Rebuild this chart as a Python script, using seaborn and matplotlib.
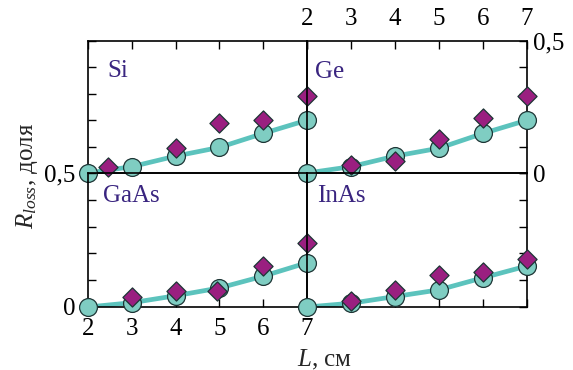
import numpy as np
import pandas as pd
import matplotlib
matplotlib.use("Agg")
import matplotlib.pyplot as plt
from matplotlib.ticker import FixedLocator, FixedFormatter
import seaborn as sns

# --- data -----------------------------------------------------------------
L_calc = [2, 3, 4, 5, 6, 7]

si_calc = [0.0, 0.024, 0.064, 0.097, 0.150, 0.200]
si_exp_L = [2.46, 4, 5, 6, 7]
si_exp = [0.024, 0.094, 0.188, 0.200, 0.290]

ge_calc = [0.0, 0.024, 0.064, 0.094, 0.150, 0.200]
ge_exp_L = [3, 4, 5, 6, 7]
ge_exp = [0.030, 0.047, 0.128, 0.207, 0.290]

gaas_calc = [0.0, 0.016, 0.042, 0.071, 0.115, 0.165]
gaas_exp_L = [3, 4, 4.95, 6, 7]
gaas_exp = [0.039, 0.058, 0.058, 0.153, 0.239]

inas_calc = [0.0, 0.014, 0.039, 0.064, 0.109, 0.153]
inas_exp_L = [3, 4, 5, 6, 7]
inas_exp = [0.023, 0.062, 0.121, 0.130, 0.180]

materials = ["Si", "Ge", "GaAs", "InAs"]
x_ticks = [2, 3, 4, 5, 6, 7]
x_ticklabels = ["2", "3", "4", "5", "6", "7"]
y_ticks = [0, 0.1, 0.2, 0.3, 0.4, 0.5]
y_ticklabels = ["0", "", "", "", "", "0,5"]

calc = pd.DataFrame({
    "material": np.repeat(materials, len(L_calc)),
    "L": L_calc * 4,
    "R": si_calc + ge_calc + gaas_calc + inas_calc,
})
exp = pd.DataFrame({
    "material": (["Si"] * len(si_exp) + ["Ge"] * len(ge_exp)
                 + ["GaAs"] * len(gaas_exp) + ["InAs"] * len(inas_exp)),
    "L": si_exp_L + ge_exp_L + gaas_exp_L + inas_exp_L,
    "R": si_exp + ge_exp + gaas_exp + inas_exp,
})

# --- style ----------------------------------------------------------------
sns.set_style("ticks")
plt.rcParams["font.family"] = ["Liberation Serif", "DejaVu Serif"]
plt.rcParams["mathtext.fontset"] = "custom"
plt.rcParams["mathtext.rm"] = "Liberation Serif"
plt.rcParams["mathtext.it"] = "Liberation Serif:italic"

FS = 18
LINE_C = "#5cc3bd"
CIRC_C = "#7fcdc2"
DIAM_C = "#9a1f80"
EDGE_C = "#1d3535"
LABEL_C = "#3a2580"

fig = plt.figure(figsize=(5.73, 3.70), dpi=100)
fig.patch.set_facecolor("white")

x0, xm, x1 = 0.1536, 0.5358, 0.9197
y0, ym, y1 = 0.1703, 0.5324, 0.8892
boxes = {
    "Si":   [x0, ym, xm - x0, y1 - ym],
    "Ge":   [xm, ym, x1 - xm, y1 - ym],
    "GaAs": [x0, y0, xm - x0, ym - y0],
    "InAs": [xm, y0, x1 - xm, ym - y0],
}
text_pos = {"Si": (0.087, 0.727), "Ge": (0.036, 0.72),
            "GaAs": (0.068, 0.784), "InAs": (0.045, 0.784)}

for name in materials:
    ax = fig.add_axes(boxes[name])
    ax.set_facecolor("none")
    c = calc[calc.material == name]
    e = exp[exp.material == name]
    sns.lineplot(data=c, x="L", y="R", ax=ax, color=LINE_C, lw=3.4,
                 zorder=2, legend=False)
    sns.scatterplot(data=c, x="L", y="R", ax=ax, marker="o", s=165,
                    color=CIRC_C, edgecolor=EDGE_C, linewidth=0.9,
                    zorder=3, clip_on=False, legend=False)
    sns.scatterplot(data=e, x="L", y="R", ax=ax, marker="D", s=95,
                    color=DIAM_C, edgecolor=EDGE_C, linewidth=0.9,
                    zorder=4, clip_on=False, legend=False)

    ax.set_xlim(2, 7)
    ax.set_ylim(0, 0.5)
    ax.set_xlabel("")
    ax.set_ylabel("")
    ax.xaxis.set_major_locator(FixedLocator(x_ticks))
    ax.yaxis.set_major_locator(FixedLocator(y_ticks))
    for sp in ax.spines.values():
        sp.set_visible(True)
        sp.set_linewidth(1.2)
        sp.set_color("black")

    top = name in ("Si", "Ge")
    left = name in ("Si", "GaAs")
    ax.tick_params(axis="both", direction="in", length=6, width=1.0,
                   colors="black", labelsize=FS)
    ax.tick_params(axis="x", top=top, bottom=not top,
                   labeltop=(name == "Ge"), labelbottom=(name == "GaAs"),
                   pad=8)
    ax.tick_params(axis="y", left=left, right=not left,
                   labelleft=(name == "GaAs"), labelright=(name == "Ge"))
    if name == "GaAs":
        ax.tick_params(axis="y", pad=9)
    if name == "Ge":
        ax.tick_params(axis="y", pad=4)
    ax.xaxis.set_major_formatter(FixedFormatter(x_ticklabels))
    ax.yaxis.set_major_formatter(FixedFormatter(y_ticklabels))

    tx, ty = text_pos[name]
    ax.text(tx, ty, name, transform=ax.transAxes, fontsize=FS,
            color=LABEL_C, ha="left", va="baseline")

fig.text(325 / 573, 1 - 366 / 370, "$L$, см", fontsize=FS,
         ha="center", va="baseline")
fig.text(27 / 573, 1 - 176 / 370, "$R_{loss}$, доля", fontsize=FS,
         rotation=90, ha="center", va="center")

fig.savefig("out.png", dpi=100)
